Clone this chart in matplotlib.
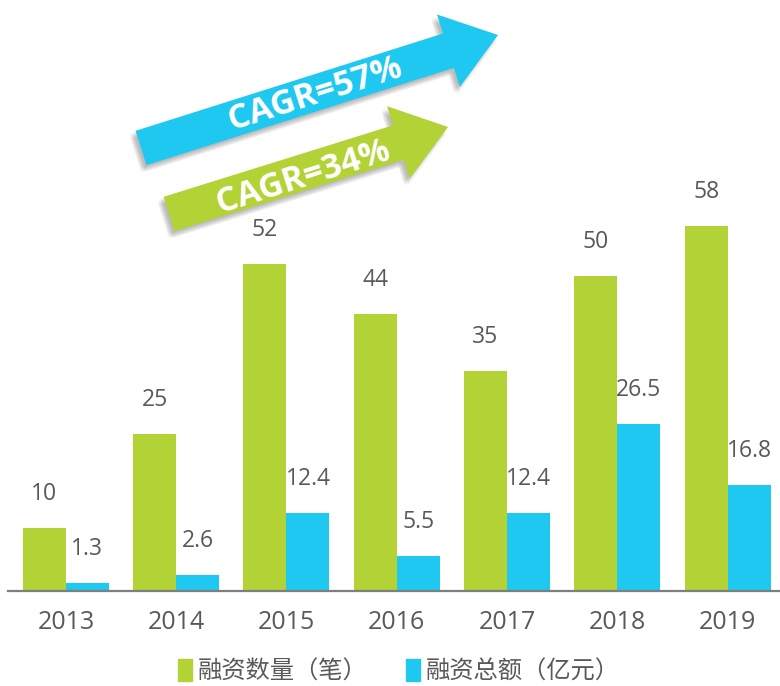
import matplotlib
matplotlib.use("Agg")
import matplotlib.pyplot as plt
import matplotlib.patheffects as pe
from matplotlib.patches import FancyArrow, Patch
import numpy as np

plt.rcParams['font.family'] = ['Open Sans', 'Noto Sans CJK SC', 'DejaVu Sans']

# data
years = ['2013', '2014', '2015', '2016', '2017', '2018', '2019']
deal_count = [10, 25, 52, 44, 35, 50, 58]          # 融资数量（笔）
deal_amount = [1.3, 2.6, 12.4, 5.5, 12.4, 26.5, 16.8]  # 融资总额（亿元）
series_names = ['融资数量（笔）', '融资总额（亿元）']
cagr_labels = ['CAGR=57%', 'CAGR=34%']

green = '#b2d235'
cyan = '#1fc8f0'
grey_text = '#595959'

fig = plt.figure(figsize=(7.8, 6.86), dpi=100)
ax = fig.add_axes([8 / 780, 95 / 686, 772 / 780, 591 / 686])

x = np.arange(len(years))
w = 0.39
b1 = ax.bar(x - w / 2, deal_count, w, color=green)
b2 = ax.bar(x + w / 2, deal_amount, w, color=cyan)

for bars, vals in [(b1, deal_count), (b2, deal_amount)]:
    for bar, v in zip(bars, vals):
        ax.annotate(str(v), (bar.get_x() + bar.get_width() / 2, bar.get_height()),
                    xytext=(0, 34), textcoords='offset pixels',
                    ha='center', va='center', fontsize=16.5, color=grey_text)

ax.set_xlim(-0.525, 6.475)
ax.set_ylim(0, 93.9)
ax.set_xticks(x)
ax.set_xticklabels(years, fontsize=18, color=grey_text)
ax.tick_params(axis='x', length=0, pad=14)
ax.set_yticks([])
for s in ['top', 'right', 'left']:
    ax.spines[s].set_visible(False)
ax.spines['bottom'].set_color('#7f7f7f')
ax.spines['bottom'].set_linewidth(1.6)

# legend
handles = [Patch(color=green), Patch(color=cyan)]
fig.legend(handles, series_names, loc='center', bbox_to_anchor=(399 / 780, 1 - 672 / 686),
           ncol=2, frameon=False, fontsize=17.5, handlelength=0.55, handleheight=1.0,
           handletextpad=0.25, columnspacing=1.6, labelcolor=grey_text)

# CAGR arrows in pixel coordinates
ov = fig.add_axes([0, 0, 1, 1])
ov.set_xlim(0, 780)
ov.set_ylim(686, 0)
ov.axis('off')

# soft drop shadow: several faint offset copies
shadow = []
for dx in (-4, -2.5, -1):
    for dy in (-5, -3.5, -2):
        shadow.append(pe.SimplePatchShadow(offset=(dx, dy), shadow_rgbFace='#555555', alpha=0.05))
shadow.append(pe.Normal())

arrows = [
    ((141, 148), (498, 35), cyan, (315, 94)),
    ((169, 214), (448, 127), green, (303, 177)),
]
for (tail, tip, col, tpos), lab in zip(arrows, cagr_labels):
    arr = FancyArrow(tail[0], tail[1], tip[0] - tail[0], tip[1] - tail[1],
                     width=36, head_width=76, head_length=52,
                     length_includes_head=True, color=col, lw=0)
    arr.set_path_effects(shadow)
    ov.add_patch(arr)
    ov.text(tpos[0], tpos[1], lab, rotation=17.6, rotation_mode='anchor',
            ha='center', va='center', color='white', fontsize=24.5, fontweight='bold')

fig.savefig('out.png', dpi=100)
